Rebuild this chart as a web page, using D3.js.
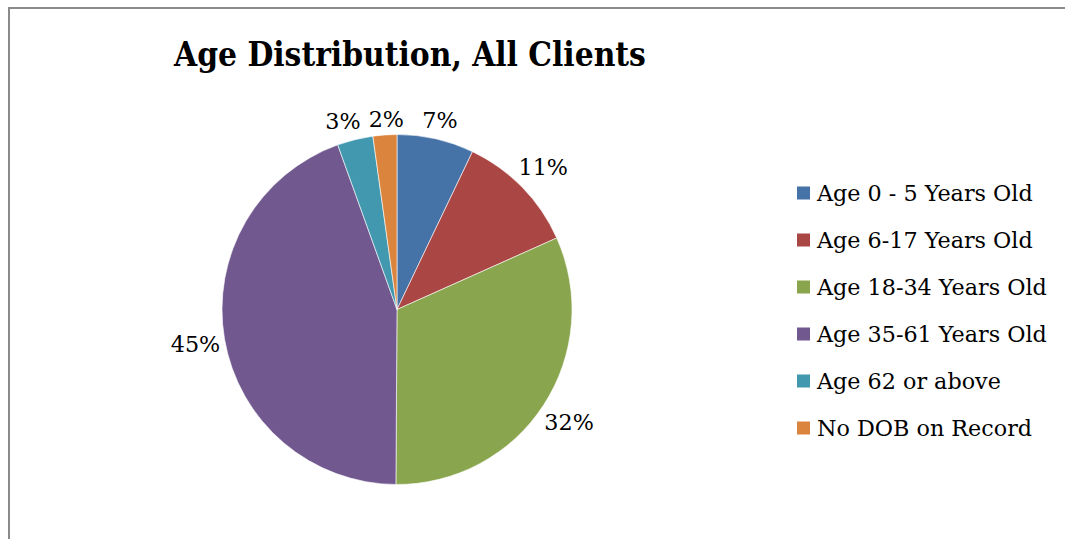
<!DOCTYPE html>
<html>
<head>
<meta charset="utf-8">
<title>Age Distribution, All Clients</title>
<script src="https://cdn.jsdelivr.net/npm/d3@7"></script>
<style>
body { margin:0; background:#fff; }
svg text { font-family: "DejaVu Serif", serif; fill:#000; }
svg text.title { font-family: "DejaVu Serif Condensed", "DejaVu Serif", serif; }
</style>
</head>
<body>
<svg id="chart" width="1065" height="539"></svg>
<script>
// ---- data ----
var categories = ["Age 0 - 5 Years Old", "Age 6-17 Years Old", "Age 18-34 Years Old",
                  "Age 35-61 Years Old", "Age 62 or above", "No DOB on Record"]
var shares = [7.1, 11.2, 31.8, 44.4, 3.3, 2.2]
var labels = ["7%", "11%", "32%", "45%", "3%", "2%"]
var colors = ["#4572A7", "#AA4643", "#89A54E", "#71588F", "#4198AF", "#DB843D"]

var svg = d3.select("#chart")

// frame (only left and top edges show in the crop)
svg.append("path")
  .attr("d", "M9,539V8H1065")
  .attr("fill", "none")
  .attr("stroke", "#8a8a8a")
  .attr("stroke-width", 2)

// title
var title = svg.append("text")
  .attr("class", "title")
  .attr("x", 410)
  .attr("y", 66)
  .attr("text-anchor", "middle")
  .attr("font-weight", "bold")
  .attr("font-size", 32)
  .text("Age Distribution, All Clients")
var tw = title.node().getComputedTextLength()
title.attr("font-size", 32 * 472 / tw)

// size text so the widest legend entry spans ~230px like the reference
var probe = svg.append("text").attr("font-size", 20).text(categories[2])
var txtSize = 20 * 230 / probe.node().getComputedTextLength()
probe.remove()

//---pie---
var cx = 397, cy = 309.5, r = 175
var pie = d3.pie().sort(null).value(function(d) { return d })
var arc = d3.arc().innerRadius(0).outerRadius(r)
var arcs = pie(shares)

var g = svg.append("g").attr("transform", "translate(" + cx + "," + cy + ")")

g.selectAll("path.slice")
  .data(arcs)
  .enter().append("path")
  .attr("class", "slice")
  .attr("d", arc)
  .attr("fill", function(d, i) { return colors[i] })
  .attr("stroke", "#fff")
  .attr("stroke-width", 0.6)

// outside-end labels: push the label box just past the rim
var boxes = []
var lbl = g.selectAll("text.lbl")
  .data(arcs)
  .enter().append("text")
  .attr("class", "lbl")
  .attr("font-size", txtSize)
  .attr("text-anchor", "middle")
  .attr("dominant-baseline", "central")
  .text(function(d, i) { return labels[i] })
  .each(function(d, i) {
    var a = (d.startAngle + d.endAngle) / 2
    var w = this.getComputedTextLength()
    var h = txtSize * 1.1
    var off = (w / 2) * Math.abs(Math.sin(a)) + (h / 2) * Math.abs(Math.cos(a)) + 3
    boxes[i] = { x: Math.sin(a) * (r + off), y: -Math.cos(a) * (r + off), w: w, h: h }
  })

// nudge neighbours apart where boxes overlap (the two thin slices at the top)
for (var k = 0; k < boxes.length; k++) {
  var b1 = boxes[k], b2 = boxes[(k + 1) % boxes.length]
  var needX = (b1.w + b2.w) / 2 + 8 - Math.abs(b1.x - b2.x)
  var needY = (b1.h + b2.h) / 2 - Math.abs(b1.y - b2.y)
  if (needX > 0 && needY > 0) {
    var dir = b1.x < b2.x ? -1 : 1
    b1.x += dir * needX * 0.75
    b2.x -= dir * needX * 0.25
  }
}
lbl.attr("x", function(d, i) { return boxes[i].x })
   .attr("y", function(d, i) { return boxes[i].y })

//---legend---
var legend = svg.append("g").attr("transform", "translate(797,193)")
var item = legend.selectAll("g.item")
  .data(categories)
  .enter().append("g")
  .attr("class", "item")
  .attr("transform", function(d, i) { return "translate(0," + (i * 47) + ")" })

item.append("rect")
  .attr("x", 0)
  .attr("y", -6.5)
  .attr("width", 13)
  .attr("height", 13)
  .attr("fill", function(d, i) { return colors[i] })

item.append("text")
  .attr("x", 20)
  .attr("y", 0)
  .attr("dominant-baseline", "central")
  .attr("font-size", txtSize)
  .text(function(d) { return d })
</script>
</body>
</html>
